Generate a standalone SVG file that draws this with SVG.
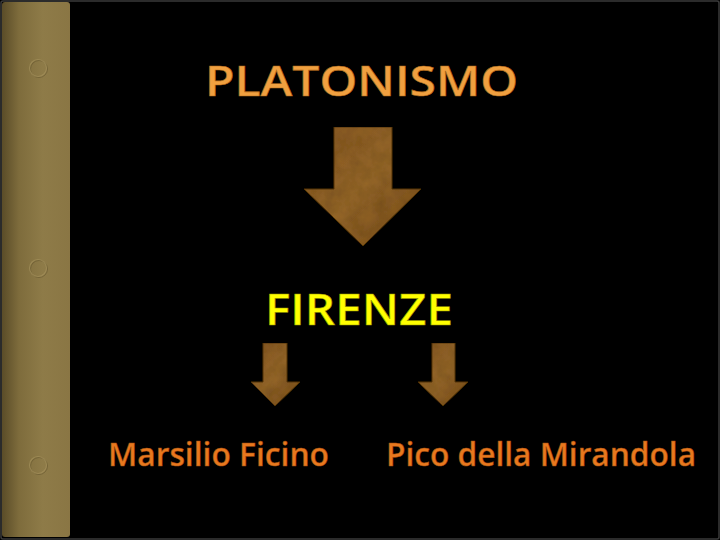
<svg xmlns="http://www.w3.org/2000/svg" width="720" height="540" viewBox="0 0 720 540">
<defs>
<linearGradient id="spine" x1="0" y1="0" x2="1" y2="0">
<stop offset="0" stop-color="#5a4c28"/>
<stop offset="0.25" stop-color="#7e6c3c"/>
<stop offset="0.6" stop-color="#8e7b48"/>
<stop offset="1" stop-color="#8a7644"/>
</linearGradient>
<linearGradient id="wood" x1="0" y1="0" x2="1" y2="1">
<stop offset="0" stop-color="#8a5a22"/>
<stop offset="0.5" stop-color="#9a6a2c"/>
<stop offset="1" stop-color="#7a4e1a"/>
</linearGradient>
<filter id="tex" x="0" y="0" width="1" height="1">
<feTurbulence type="fractalNoise" baseFrequency="0.08" numOctaves="3" seed="4" result="n"/>
<feColorMatrix in="n" type="matrix" values="0 0 0 0 0  0 0 0 0 0  0 0 0 0 0  0 0 0 0.35 0" result="d"/>
<feComposite in="d" in2="SourceGraphic" operator="in" result="dd"/>
<feMerge><feMergeNode in="SourceGraphic"/><feMergeNode in="dd"/></feMerge>
</filter>
<linearGradient id="shadow" x1="0" y1="0" x2="1" y2="0">
<stop offset="0" stop-color="#000" stop-opacity="0.6"/>
<stop offset="1" stop-color="#000" stop-opacity="0"/>
</linearGradient>
</defs>
<style>
.arrow{fill:url(#wood);stroke:#5a3a12;stroke-width:1;filter:url(#tex)}
.hole{fill:none;stroke:#a8955f;stroke-width:1.2;opacity:0.6}
.hole2{fill:none;stroke:#5e4f2a;stroke-width:1;opacity:0.5}
text{font-family:"Open Sans","Noto Sans","Liberation Sans",sans-serif;font-weight:600}
.name{font-size:33px;fill:#e8781e;stroke:#a04e10;stroke-width:0.5}
</style>
<rect x="0" y="0" width="720" height="540" fill="#000"/>
<rect x="1" y="1" width="718" height="538" fill="none" stroke="#3a3a3a" stroke-width="1.5" rx="2"/>
<g id="spine-group">
<rect x="2" y="2" width="68" height="535" rx="3" fill="url(#spine)"/>
<rect x="70" y="2" width="6" height="535" fill="url(#shadow)"/>
<circle class="hole2" cx="39" cy="69" r="8.5"/>
<circle class="hole" cx="38" cy="68" r="8.5"/>
<circle class="hole2" cx="39" cy="269" r="8.5"/>
<circle class="hole" cx="38" cy="268" r="8.5"/>
<circle class="hole2" cx="39" cy="466" r="8.5"/>
<circle class="hole" cx="38" cy="465" r="8.5"/>
</g>
<g id="platonismo">
<text x="205" y="96" font-size="42" font-weight="500" fill="#f0a040" stroke="#b06a1a" stroke-width="0.6" textLength="313" lengthAdjust="spacingAndGlyphs">PLATONISMO</text>
</g>
<g id="firenze">
<text x="265" y="325" font-size="44" fill="#ffff00" stroke="#9a9a00" stroke-width="0.6" textLength="188" lengthAdjust="spacingAndGlyphs">FIRENZE</text>
</g>
<g id="marsilio">
<text class="name" x="108" y="466" textLength="221" lengthAdjust="spacingAndGlyphs">Marsilio Ficino</text>
</g>
<g id="pico">
<text class="name" x="386" y="466" textLength="310" lengthAdjust="spacingAndGlyphs">Pico della Mirandola</text>
</g>
<g id="connectors">
<polygon class="arrow" points="334,127 392,127 392,189 421,189 363,246 304,189 334,189"/>
<polygon class="arrow" points="263,343 287,343 287,382 300,382 275,406 251,382 263,382"/>
<polygon class="arrow" points="432,343 455,343 455,382 468,382 443,406 418,382 432,382"/>
</g>
</svg>
